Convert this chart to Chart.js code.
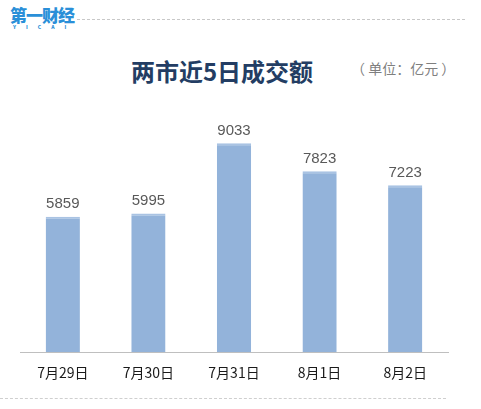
<!DOCTYPE html>
<html>
<head>
<meta charset="utf-8">
<script src="https://cdn.jsdelivr.net/npm/chart.js@4.4.0/dist/chart.umd.min.js"></script>
<style>
  html, body { margin: 0; padding: 0; background: #fff; }
  #wrap { position: relative; width: 481px; height: 409px; overflow: hidden; font-family: "Noto Sans CJK SC", "Noto Sans", sans-serif; }
  #myChart { position: absolute; left: 0; top: 0; }
  .logo { position: absolute; left: 10px; top: 5px; color: #2a8fd8; font-weight: 900; font-size: 17px; letter-spacing: -1px; line-height: 19px; }
  .logo small { display: block; font-size: 5px; letter-spacing: 10px; line-height: 6px; margin-left: 3px; color: #2a8fd8; }
  .topline { position: absolute; left: 77px; top: 19px; width: 388px; border-top: 1px dashed #c8c8c8; }
  .bottomline { position: absolute; left: 0px; top: 398px; width: 446px; border-top: 1px dashed #cfcfcf; }
  .title { position: absolute; left: 0; width: 444px; text-align: center; top: 55px; font-size: 24px; line-height: 32px; font-weight: bold; color: #233d63; }
  .unit { position: absolute; left: 351px; top: 58px; font-size: 14px; color: #7f7f7f; white-space: nowrap; }
</style>
</head>
<body>
<div id="wrap">
  <div class="logo">第一财经<small>YICAI</small></div>
  <div class="topline"></div>
  <div class="title">两市近5日成交额</div>
  <div class="unit">（ 单位：亿元 ）</div>
  <canvas id="myChart" width="481" height="409"></canvas>
  <div class="bottomline"></div>
</div>
<script>
var labels = ['7月29日', '7月30日', '7月31日', '8月1日', '8月2日'];
var turnover = [5859, 5995, 9033, 7823, 7223];

// value labels above each bar
var valueLabels = {
  id: 'valueLabels',
  afterDatasetsDraw: function(chart) {
    var ctx = chart.ctx;
    var meta = chart.getDatasetMeta(0);
    ctx.save();
    ctx.font = '15px "Liberation Sans", Arial, sans-serif';
    ctx.fillStyle = '#595959';
    ctx.textAlign = 'center';
    ctx.textBaseline = 'bottom';
    meta.data.forEach(function(bar, i) {
      ctx.fillText(String(turnover[i]), bar.x, bar.y - 5);
    });
    ctx.restore();
  }
};

var ctx = document.getElementById('myChart').getContext('2d');
var myChart = new Chart(ctx, {
  type: 'bar',
  data: {
    labels: labels,
    datasets: [{
      label: '成交额',
      data: turnover,
      backgroundColor: '#93b3da',
      borderColor: '#a9c3e3',
      borderWidth: { top: 2, left: 0, right: 0, bottom: 0 },
      borderSkipped: 'bottom',
      categoryPercentage: 1,
      barPercentage: 0.4
    }]
  },
  options: {
    responsive: false,
    animation: false,
    layout: { padding: { left: 20, right: 33, top: 121, bottom: 24 } },
    plugins: { legend: { display: false }, tooltip: { enabled: false } },
    scales: {
      y: { display: false, min: 0, max: 10000 },
      x: {
        grid: { display: false },
        border: { display: true, color: '#bfbfbf', width: 1 },
        ticks: {
          color: '#1a1a1a',
          padding: 4,
          font: { family: '"Noto Sans CJK SC", sans-serif', size: 14 }
        }
      }
    }
  },
  plugins: [valueLabels]
});
</script>
</body>
</html>
